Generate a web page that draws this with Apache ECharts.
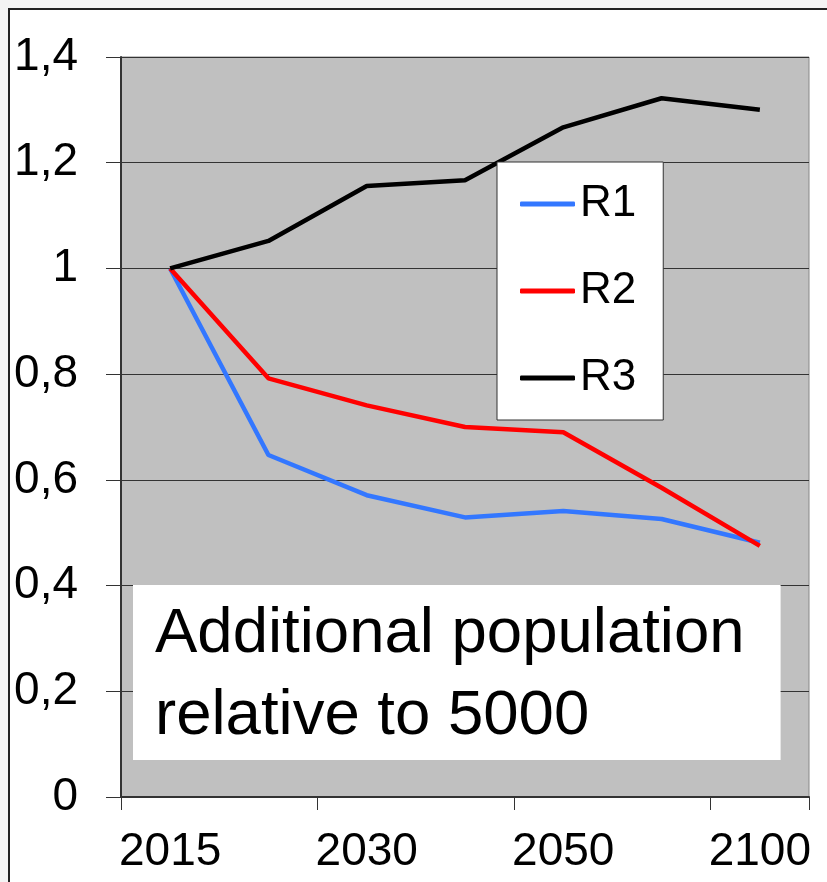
<!DOCTYPE html>
<html>
<head>
<meta charset="utf-8">
<script src="https://cdn.jsdelivr.net/npm/echarts@6/dist/echarts.min.js"></script>
<style>
html,body{margin:0;padding:0;background:#fff;}
#chart{width:827px;height:882px;}
</style>
</head>
<body>
<div id="chart"></div>
<script>
var categories = ['2015', '2020', '2030', '2040', '2050', '2075', '2100'];
var r1Values = [1.0, 0.647, 0.571, 0.529, 0.541, 0.526, 0.481];
var r2Values = [1.0, 0.792, 0.741, 0.700, 0.690, 0.585, 0.475];
var r3Values = [1.0, 1.052, 1.156, 1.167, 1.267, 1.322, 1.300];
var seriesNames = ['R1', 'R2', 'R3'];
var annotation = 'Additional population\nrelative to 5000';

var FONT = '"Liberation Sans", Arial, sans-serif';
var chart = echarts.init(document.getElementById('chart'), null, {renderer: 'canvas'});
var colors = ['#3377ff', '#ff0000', '#000000'];
var allValues = [r1Values, r2Values, r3Values];

chart.setOption({
  backgroundColor: '#ffffff',
  animation: false,
  grid: {
    left: 121, right: 18, top: 57, bottom: 85,
    show: true, backgroundColor: '#c0c0c0', borderColor: '#888888', borderWidth: 1
  },
  title: {
    text: annotation,
    left: 133, top: 585,
    backgroundColor: '#ffffff',
    padding: [8, 36, 3, 22],
    z: 10,
    textStyle: {fontFamily: FONT, fontSize: 63.5, fontWeight: 'normal', color: '#000', lineHeight: 82}
  },
  legend: {
    orient: 'vertical',
    left: 497, top: 162,
    padding: [20, 27, 20, 23],
    backgroundColor: '#ffffff',
    borderColor: '#333333', borderWidth: 1,
    icon: 'roundRect',
    itemWidth: 55, itemHeight: 5, itemGap: 43,
    z: 10,
    data: seriesNames,
    textStyle: {fontFamily: FONT, fontSize: 44, color: '#000', lineHeight: 44, padding: [0, 0, 0, 0]}
  },
  xAxis: {
    type: 'category',
    data: categories,
    boundaryGap: true,
    axisLine: {lineStyle: {color: '#333', width: 2}},
    axisTick: {show: true, length: 13, inside: false, alignWithLabel: false, lineStyle: {color: '#333', width: 1}},
    axisLabel: {interval: 1, margin: 32, fontFamily: FONT, fontSize: 46, color: '#000'},
    splitLine: {show: false}
  },
  yAxis: {
    type: 'value',
    min: 0, max: 1.4, interval: 0.2,
    axisLine: {show: true, lineStyle: {color: '#333', width: 2}},
    axisTick: {show: true, length: 15, lineStyle: {color: '#333', width: 1}},
    axisLabel: {
      margin: 43, fontFamily: FONT, fontSize: 46, color: '#000',
      formatter: function (v) { return String(Math.round(v * 10) / 10).replace('.', ','); }
    },
    splitLine: {show: true, lineStyle: {color: '#333', width: 1}}
  },
  series: seriesNames.map(function (n, i) {
    return {
      name: n, type: 'line', data: allValues[i],
      symbol: 'none', showSymbol: false,
      color: colors[i],
      lineStyle: {color: colors[i], width: 4.5},
      itemStyle: {color: colors[i]}
    };
  }),
  graphic: [
    {type: 'rect', shape: {x: 0, y: 0, width: 827, height: 8}, style: {fill: '#f4f4f4'}, z: 20, silent: true},
    {type: 'rect', shape: {x: 0, y: 0, width: 8, height: 882}, style: {fill: '#f4f4f4'}, z: 20, silent: true},
    {type: 'line', shape: {x1: 8, y1: 9, x2: 827, y2: 9}, style: {stroke: '#222', lineWidth: 2}, z: 21, silent: true},
    {type: 'line', shape: {x1: 9, y1: 8, x2: 9, y2: 882}, style: {stroke: '#222', lineWidth: 2}, z: 21, silent: true}
  ]
});
</script>
</body>
</html>
